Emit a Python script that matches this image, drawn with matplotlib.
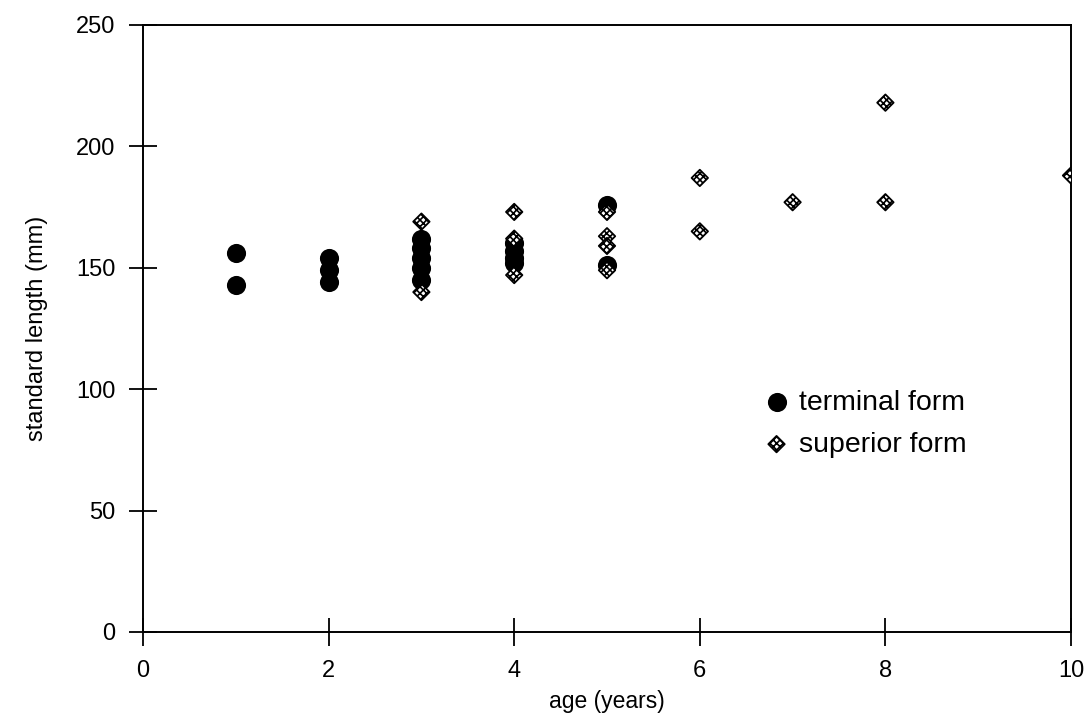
import matplotlib
matplotlib.use("Agg")
import matplotlib.pyplot as plt

plt.rcParams['font.family'] = ['Liberation Sans', 'DejaVu Sans']
plt.rcParams['hatch.linewidth'] = 1.2

# terminal form (filled circles)
term_age = [1, 1, 2, 2, 2, 3, 3, 3, 3, 3, 4, 4, 4, 4, 5, 5]
term_len = [156, 143, 154, 149, 144, 162, 158, 154, 150, 145, 160, 157, 154, 152, 176, 151]

# superior form (hatched diamonds)
sup_age = [3, 3, 4, 4, 4, 5, 5, 5, 5, 6, 6, 7, 8, 8, 10]
sup_len = [169, 140, 173, 162, 147, 173, 163, 159, 149, 187, 165, 177, 218, 177, 188]

xticks = [0, 2, 4, 6, 8, 10]
yticks = [0, 50, 100, 150, 200, 250]

fig = plt.figure(figsize=(10.85, 7.24), dpi=100)
ax = fig.add_axes([0.1318, 0.1271, 0.8553, 0.8384])

ax.scatter(term_age, term_len, s=190, marker='o', color='black', zorder=3,
           label='terminal form', linewidths=0)
ax.scatter(sup_age, sup_len, s=70, marker='D', facecolors='white',
           edgecolors='black', hatch='xxxxx', linewidths=1.3, zorder=4,
           label='superior form')

ax.set_xlim(0, 10)
ax.set_ylim(0, 250)
ax.set_xticks(xticks)
ax.set_yticks(yticks)
ax.tick_params(direction='inout', length=20, width=1.3, labelsize=17,
               top=False, right=False)
ax.tick_params(axis='y', pad=10)
ax.tick_params(axis='x', pad=10)
for sp in ax.spines.values():
    sp.set_linewidth(1.4)

ax.set_xlabel('age (years)', fontsize=16.5, labelpad=6)
ax.set_ylabel('standard length (mm)', fontsize=17, labelpad=20)

leg = ax.legend(loc='center left', bbox_to_anchor=(0.652, 0.343), frameon=False,
                fontsize=20.5, handletextpad=0.2, labelspacing=0.55,
                scatterpoints=1, borderaxespad=0, handlelength=1.2)

fig.savefig('out.png', dpi=100)
